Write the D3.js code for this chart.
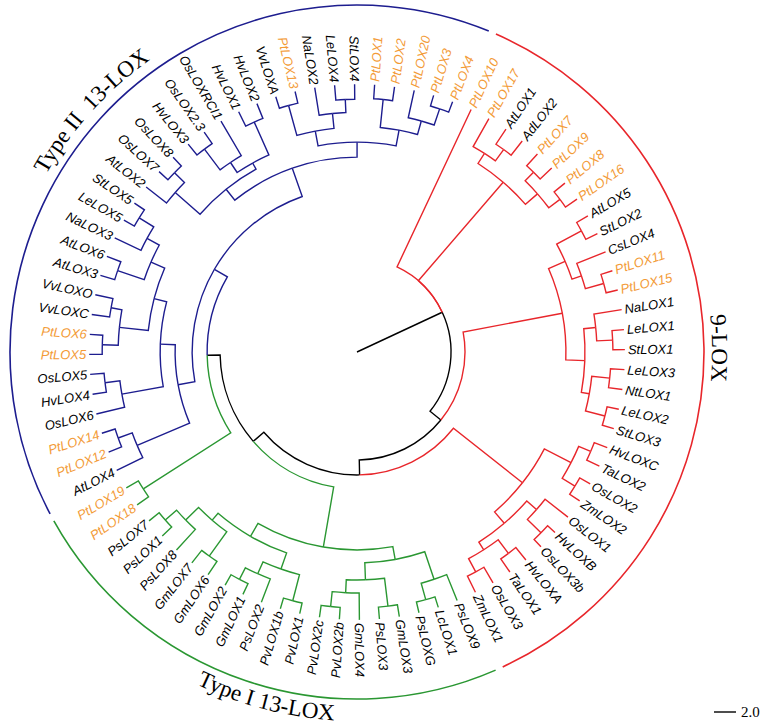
<!DOCTYPE html>
<html><head><meta charset="utf-8">
<script src="https://cdn.jsdelivr.net/npm/d3@7"></script>
<style>body{margin:0;background:#fff}svg{display:block}</style>
</head><body>
<svg id="chart" width="762" height="727"></svg>
<script>
// ---------- DATA ----------
// Clades written as Newick fragments (branch lengths in tree units; scale bar = 2.0)
const cladeX  = "((PtLOX17:2.91,(AtLOX1:1.64,AdLOX2:1.64):1.27):1.09,((PtLOX7:1.45,PtLOX9:1.45):1.09,(PtLOX8:1.27,PtLOX16:1.27):1.27):1.45):11.82";
const cladeE1 = "((AtLOX5:1.18,StLOX2:1.18):2.55,(CsLOX4:2.82,(PtLOX11:1.09,PtLOX15:1.09):1.73):0.91):1.64";
const cladeE2 = "((NaLOX1:2.55,(LeLOX1:1.09,StLOX1:1.09):1.45):1.09,((LeLOX3:1.27,NtLOX1:1.27):1.64,(LeLOX2:1.09,StLOX3:1.09):1.82):0.73):1.73";
const cladeF1 = "((HvLOXC:1.27,TaLOX2:1.27):1.18,(OsLOX2:1.09,ZmLOX2:1.09):1.36):2.73";
const cladeF2 = "((OsLOX1:2.64,(HvLOXB:0.91,OsLOX3b:0.91):1.73):1.18,((HvLOXA:1.45,TaLOX1:1.45):1.55,(OsLOX3:1.64,ZmLOX1:1.64):1.36):0.82):1.36";
const cladeI2 = "((PsLOX9:2.55,(LcLOX1:1.0,PsLOXG:1.0):1.55):2.64,((GmLOX3:1.09,PsLOX3:1.09):2.55,(GmLOX4:2.45,(PvLOX2b:1.09,PvLOX2c:1.09):1.36):1.18):1.55):1.18";
const cladeI1 = "(((PvLOX1:1.0,PvLOX1b:1.0):2.45,(PsLOX2:2.27,(GmLOX1:1.09,GmLOX2:1.09):1.18):1.18):1.55,((GmLOX6:1.45,GmLOX7:1.45):2.73,(PsLOX8:2.55,(PsLOX1:1.18,PsLOX7:1.18):1.36):1.64):0.82):1.36";
const cladeP  = "(PtLOX18:1.27,PtLOX19:1.27):9.45";
const cladeJ1 = "((AtLOX4:2.64,(PtLOX12:1.27,PtLOX14:1.27):1.36):5.18,((OsLOX6:2.64,(HvLOX4:1.27,OsLOX5:1.27):1.36):3.82,(((PtLOX5:1.18,PtLOX6:1.18):1.45,(VvLOXC:1.64,VvLOXO:1.64):1.0):2.64,((AtLOX3:1.36,AtLOX6:1.36):2.55,(NaLOX3:2.64,(LeLOX5:1.09,StLOX5:1.09):1.55):1.27):1.36):1.18):1.36):1.55";
const cladeJ2 = "(((AtLOX2:2.36,(OsLOX7:1.09,OsLOX8:1.09):1.27):3.0,(((HvLOX3:1.27,OsLOX2.3:1.27):2.36,OsLOXRCI1:3.64):1.09,(HvLOX1:1.45,HvLOX2:1.45):3.27):0.64):1.27,(((VvLOXA:1.09,PtLOX13:1.09):2.82,(NaLOX2:2.55,(LeLOX4:1.36,StLOX4:1.36):1.18):1.36):1.36,((PtLOX1:1.27,PtLOX2:1.27):2.55,(PtLOX20:2.55,(PtLOX3:1.0,PtLOX4:1.0):1.55):1.27):1.45):1.36):2.73";

// backbone branch lengths
const rootStem = 8.55, lenPtLOX10 = 15.82, lenB = 1.27, lenE = 9.18, lenD = 1.36, lenF = 8.0, lenG = 1.27, lenI = 5.55, lenH = 1.18, lenJ = 1.36;

const nineLOX = ["PtLOX10","PtLOX17","AtLOX1","AdLOX2","PtLOX7","PtLOX9","PtLOX8","PtLOX16","AtLOX5","StLOX2","CsLOX4","PtLOX11","PtLOX15","NaLOX1","LeLOX1","StLOX1","LeLOX3","NtLOX1","LeLOX2","StLOX3","HvLOXC","TaLOX2","OsLOX2","ZmLOX2","OsLOX1","HvLOXB","OsLOX3b","HvLOXA","TaLOX1","OsLOX3","ZmLOX1"];
const typeI = ["PsLOX9","LcLOX1","PsLOXG","GmLOX3","PsLOX3","GmLOX4","PvLOX2b","PvLOX2c","PvLOX1","PvLOX1b","PsLOX2","GmLOX1","GmLOX2","GmLOX6","GmLOX7","PsLOX8","PsLOX1","PsLOX7","PtLOX18","PtLOX19"];
const typeII = ["AtLOX4","PtLOX12","PtLOX14","OsLOX6","HvLOX4","OsLOX5","PtLOX5","PtLOX6","VvLOXC","VvLOXO","AtLOX3","AtLOX6","NaLOX3","LeLOX5","StLOX5","AtLOX2","OsLOX7","OsLOX8","HvLOX3","OsLOX2.3","OsLOXRCI1","HvLOX1","HvLOX2","VvLOXA","PtLOX13","NaLOX2","LeLOX4","StLOX4","PtLOX1","PtLOX2","PtLOX20","PtLOX3","PtLOX4"];
const groupNames = ["9-LOX", "Type I 13-LOX", "Type II\u00a0\u00a013-LOX"];
const scaleBarValue = 2.0;

// ---------- BUILD TREE ----------
const cladeE = `(${cladeE1},${cladeE2}):${lenE}`;
const cladeF = `(${cladeF1},${cladeF2}):${lenF}`;
const cladeI = `(${cladeI2},${cladeI1}):${lenI}`;
const cladeJ = `(${cladeJ1},${cladeJ2}):${lenJ}`;
const cladeH = `(${cladeP},${cladeJ}):${lenH}`;
const cladeG = `(${cladeI},${cladeH}):${lenG}`;
const cladeD = `(${cladeF},${cladeG}):${lenD}`;
const cladeB = `(${cladeE},${cladeD}):${lenB}`;
const newick = `(PtLOX10:${lenPtLOX10},${cladeX},${cladeB}):${rootStem};`;

function parseNewick(s) {
  let i = 0;
  function node() {
    const n = {};
    if (s[i] === '(') {
      i++;
      n.children = [node()];
      while (s[i] === ',') { i++; n.children.push(node()); }
      i++;
    }
    let name = '';
    while (i < s.length && !',():;'.includes(s[i])) name += s[i++];
    n.name = name.trim();
    n.length = 0;
    if (s[i] === ':') {
      i++; let num = '';
      while (i < s.length && !',();'.includes(s[i])) num += s[i++];
      n.length = +num;
    }
    return n;
  }
  return node();
}

const root = d3.hierarchy(parseNewick(newick));
root.eachBefore(d => d.len = (d.parent ? d.parent.len : 0) + d.data.length);
const leaves = root.leaves();

// ---------- LAYOUT ----------
const cx = 357, cy = 352;
const tipRadius = 268;
const startAngle = -64.8;
const angleScale = d3.scaleLinear().domain([0, leaves.length]).range([startAngle, startAngle + 360]);
const maxLen = d3.max(leaves, d => d.len);
const rScale = d3.scaleLinear().domain([0, maxLen]).range([0, tipRadius]);

leaves.forEach((d, i) => d.angle = angleScale(i));
root.eachAfter(d => { if (d.children) d.angle = d3.mean(d.children, c => c.angle); });

const groups = [
  {name: groupNames[0], leaves: nineLOX, color: "#e8262b"},
  {name: groupNames[1], leaves: typeI,   color: "#2a9732"},
  {name: groupNames[2], leaves: typeII,  color: "#1d1d8f"}
];
const leafGroup = new Map();
groups.forEach(g => g.leaves.forEach(n => leafGroup.set(n, g)));
root.eachAfter(d => {
  if (!d.children) d.group = leafGroup.get(d.data.name);
  else {
    const gs = new Set(d.children.map(c => c.group));
    d.group = gs.size === 1 ? d.children[0].group : null;
  }
});

const rad = a => a * Math.PI / 180;
const pt = (r, a) => [cx + r * Math.cos(rad(a)), cy + r * Math.sin(rad(a))];

const svg = d3.select("#chart");
const gTree = svg.append("g").attr("fill", "none").attr("stroke-width", 1.4);

// root stem
const [sx, sy] = pt(rScale(root.len), root.angle);
gTree.append("path").attr("d", `M${cx},${cy}L${sx},${sy}`).attr("stroke", "#000");

const links = root.descendants().filter(d => d.parent);
links.sort((a, b) => (a.group ? 1 : 0) - (b.group ? 1 : 0));
gTree.selectAll("path.link").data(links).join("path")
  .attr("class", "link")
  .attr("stroke", d => d.group ? d.group.color : "#000")
  .attr("d", d => {
    const p = d.parent;
    const r0 = rScale(p.len), r1 = rScale(d.len);
    const [x0, y0] = pt(r0, p.angle), [x1, y1] = pt(r0, d.angle), [x2, y2] = pt(r1, d.angle);
    const sweep = d.angle > p.angle ? 1 : 0;
    return `M${x0},${y0}A${r0},${r0} 0 0 ${sweep} ${x1},${y1}L${x2},${y2}`;
  });

// leaf labels
const norm = a => ((a % 360) + 360) % 360;
const isFlip = a => norm(a) > 90 && norm(a) < 270;
svg.append("g").selectAll("text").data(leaves).join("text")
  .attr("transform", d => `translate(${cx},${cy}) rotate(${d.angle}) translate(${rScale(d.len) + 3},0)` + (isFlip(d.angle) ? " rotate(180)" : ""))
  .attr("text-anchor", d => isFlip(d.angle) ? "end" : "start")
  .attr("dy", "0.35em")
  .attr("font-family", "'Liberation Sans', Arial, sans-serif")
  .attr("font-style", "italic")
  .attr("font-size", 13)
  .attr("fill", d => d.data.name.startsWith("Pt") ? "#f39b37" : "#000")
  .text(d => d.data.name);

// group arcs & labels
const arcR = 347;
const defs = svg.append("defs");
const labelCfg = [
  {r: 355, span: 50, dir: 1, shift: 0},
  {r: 369, span: 60, dir: -1, shift: -4},
  {r: 358, span: 70, dir: 1, shift: 0}
];
groups.forEach((g, gi) => {
  const angs = g.leaves.map(n => leaves.find(l => l.data.name === n).angle);
  const a0 = d3.min(angs) - 1.6, a1 = d3.max(angs) + 1.4;
  const [x0, y0] = pt(arcR, a0), [x1, y1] = pt(arcR, a1);
  svg.append("path").attr("fill", "none").attr("stroke", g.color).attr("stroke-width", 1.6)
    .attr("d", `M${x0},${y0}A${arcR},${arcR} 0 ${a1 - a0 > 180 ? 1 : 0} 1 ${x1},${y1}`);
  const cfg = labelCfg[gi];
  const mid = (a0 + a1) / 2 + cfg.shift;
  const s0 = mid - cfg.dir * cfg.span / 2, s1 = mid + cfg.dir * cfg.span / 2;
  const [px0, py0] = pt(cfg.r, s0), [px1, py1] = pt(cfg.r, s1);
  defs.append("path").attr("id", "gl" + gi)
    .attr("d", `M${px0},${py0}A${cfg.r},${cfg.r} 0 0 ${cfg.dir > 0 ? 1 : 0} ${px1},${py1}`);
  svg.append("text")
    .attr("font-family", "'Liberation Serif', 'Times New Roman', serif")
    .attr("font-size", 23)
    .attr("fill", "#000")
    .append("textPath").attr("href", "#gl" + gi).attr("startOffset", "50%").attr("text-anchor", "middle")
    .text(g.name);
});

// scale bar
const sbX = 714, sbY = 712;
const sbLen = rScale(scaleBarValue) - rScale(0);
svg.append("line").attr("x1", sbX).attr("x2", sbX + sbLen).attr("y1", sbY).attr("y2", sbY)
  .attr("stroke", "#000").attr("stroke-width", 1.4);
svg.append("text").attr("x", sbX + sbLen + 5).attr("y", sbY + 5)
  .attr("font-family", "'Liberation Serif', 'Times New Roman', serif").attr("font-size", 15)
  .text(d3.format(".1f")(scaleBarValue));
</script>
</body></html>
